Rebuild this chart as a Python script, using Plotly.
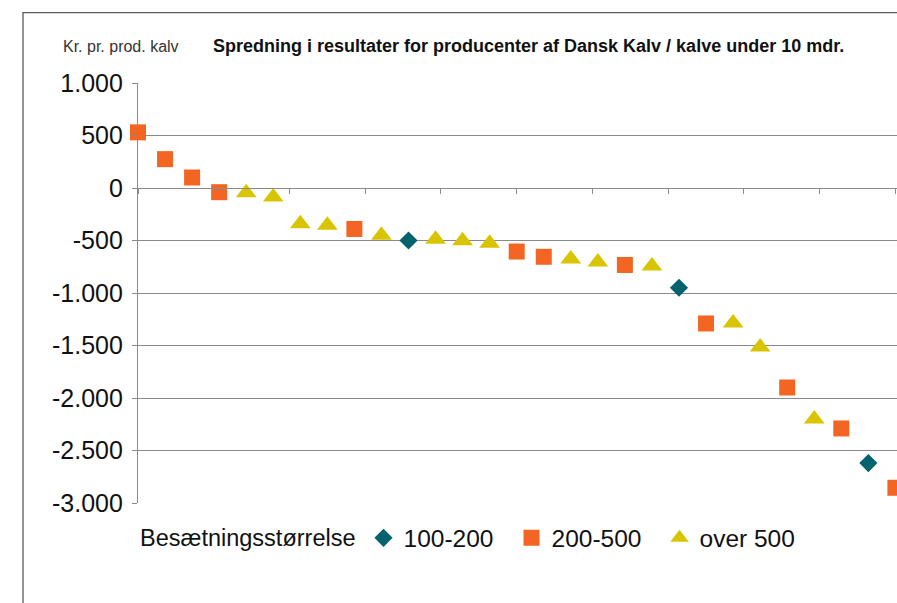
import plotly.graph_objects as go

# ---- data (rank of producer, result in kr. per produced calf) ----
rank_100_200 = [11, 21, 28]
val_100_200 = [-500, -950, -2620]

rank_200_500 = [1, 2, 3, 4, 9, 15, 16, 19, 22, 25, 27, 29]
val_200_500 = [530, 275, 100, -40, -390, -605, -655, -733, -1290, -1900, -2290, -2855]

rank_over_500 = [5, 6, 7, 8, 10, 12, 13, 14, 17, 18, 20, 23, 24, 26]
val_over_500 = [-45, -85, -340, -355, -450, -487, -503, -525, -675, -705, -742, -1285, -1515, -2200]

y_tickvals = [1000, 500, 0, -500, -1000, -1500, -2000, -2500, -3000]
y_ticktext = ["1.000", "500", "0", "-500", "-1.000", "-1.500", "-2.000", "-2.500", "-3.000"]

title_text = "Spredning i resultater for producenter af Dansk Kalv / kalve under 10 mdr."
ytitle_text = "Kr. pr. prod. kalv"
legend_title = "Besætningsstørrelse"

FONT = "Liberation Sans, Arial, sans-serif"
GRID = "#8a8a8a"

fig = go.Figure()
fig.add_trace(go.Scatter(x=rank_100_200, y=val_100_200, mode="markers", name="100-200",
                         marker=dict(symbol="diamond", size=14, color="#02636E"),
                         cliponaxis=False))
fig.add_trace(go.Scatter(x=rank_200_500, y=val_200_500, mode="markers", name="200-500",
                         marker=dict(symbol="square", size=16, color="#F26522"),
                         cliponaxis=False))
fig.add_trace(go.Scatter(x=rank_over_500, y=val_over_500, mode="markers", name="over 500",
                         marker=dict(symbol="triangle-up", size=18, color="#D8C400"),
                         cliponaxis=False))

fig.update_layout(
    width=897, height=603,
    margin=dict(l=138, r=0, t=83, b=100),
    paper_bgcolor="white", plot_bgcolor="white",
    font=dict(family=FONT, color="#111"),
    title=dict(text="<b>" + title_text + "</b>", x=213 / 897, xanchor="left", xref="container",
               y=1 - 46 / 603, yanchor="middle", yref="container",
               font=dict(family=FONT, size=18, color="#111")),
    xaxis=dict(range=[1, 1 + 759 / 27.05], anchor="free", position=0.75,
               showgrid=False, zeroline=False, showline=True, linecolor=GRID, linewidth=1.3,
               ticks="outside", ticklen=5, tickcolor=GRID, tickwidth=1.3,
               tick0=1, dtick=2.8, showticklabels=False),
    yaxis=dict(range=[-3000, 1000], tickvals=y_tickvals, ticktext=y_ticktext,
               showgrid=True, gridcolor=GRID, gridwidth=1.3, zeroline=False,
               showline=True, linecolor=GRID, linewidth=1.3,
               ticks="outside", ticklen=5, tickcolor=GRID, tickwidth=1.3,
               ticklabelstandoff=4,
               tickfont=dict(size=25, color="#111")),
    legend=dict(orientation="h", x=0, xanchor="left", y=-0.083, yanchor="middle",
                title=dict(text=legend_title, font=dict(size=23.5, color="#111")),
                font=dict(size=24.5, color="#111"), bgcolor="rgba(0,0,0,0)",
                entrywidth=103),
    showlegend=True,
)

fig.add_annotation(text=ytitle_text, xref="paper", yref="paper",
                   x=(61 - 138) / 759, y=1 + (83 - 46) / 420, xanchor="left", yanchor="middle",
                   showarrow=False, font=dict(size=16, color="#333"))

fig.add_shape(type="rect", xref="paper", yref="paper",
              x0=(23 - 138) / 759, x1=2, y0=-2, y1=1 + (83 - 12.7) / 420,
              line=dict(color="#5a5a5a", width=1.3), layer="above")

fig.write_html("out.html", config={"displayModeBar": False},
               post_script="document.body.style.margin='0';")
